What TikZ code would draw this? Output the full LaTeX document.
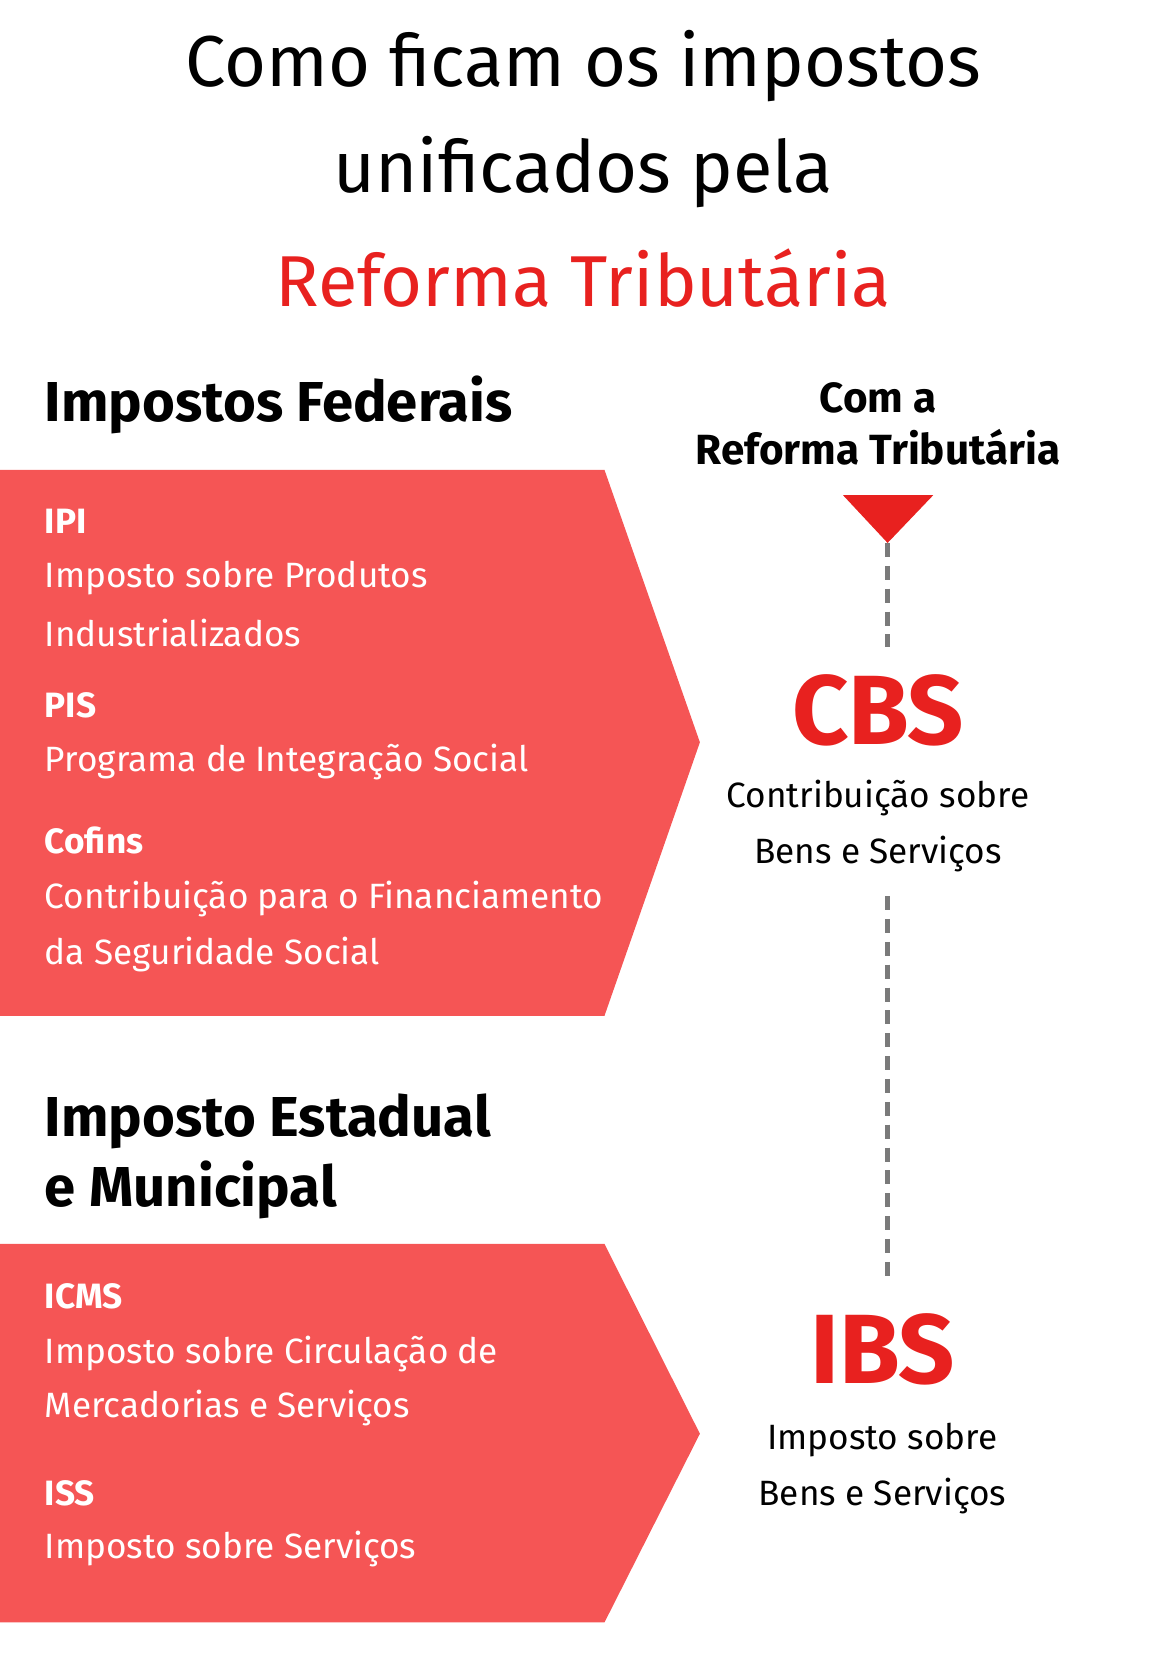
\documentclass[tikz,border=0pt]{standalone}
\usepackage{fontspec}
\setmainfont{Fira Sans}
\usetikzlibrary{positioning}
\definecolor{redbox}{HTML}{F55555}
\definecolor{redtext}{HTML}{E8211F}
\definecolor{dashgray}{HTML}{7A7A7A}
\tikzset{
  title/.style   ={font=\fontsize{41}{48}\selectfont, anchor=center},
  heading/.style ={font=\fontsize{32}{38}\selectfont\bfseries, anchor=west},
  tax/.style     ={font=\fontsize{20}{24}\selectfont\bfseries, text=white, anchor=west},
  desc/.style    ={font=\fontsize{20}{24}\selectfont, text=white, anchor=west},
  big/.style     ={font=\fontsize{56}{60}\selectfont\bfseries, text=redtext},
  sub/.style     ={font=\fontsize{20}{24}\selectfont, anchor=center},
  link/.style    ={dashgray, line width=2.6pt, dash pattern=on 8pt off 5pt}
}
\begin{document}
\begin{tikzpicture}[x=0.0212cm, y=-0.0212cm, inner sep=0pt]
    \useasboundingbox (0,0) rectangle (1100,1572);

    % title
    \node[title] (t1) at (550,62) {Como ficam os impostos};
    \node[title] (t2) at (550,162) {unificados pela};
    \node[title, text=redtext] (t3) at (550,262) {Reforma Tributária};

    % federal
    \node[heading] (fed) at (42,382) {Impostos Federais};
    \fill[redbox] (0,443) -- (570,443) -- (660,700) -- (570,958) -- (0,958) -- cycle;
    \node[tax]  (ipi)  at (42,492) {IPI};
    \node[desc] (ipi1) at (42,545) {Imposto sobre Produtos};
    \node[desc] (ipi2) at (42,597) {Industrializados};
    \node[tax]  (pis)  at (42,665) {PIS};
    \node[desc] (pis1) at (42,719) {Programa de Integração Social};
    \node[tax]  (cof)  at (42,793) {Cofins};
    \node[desc] (cof1) at (42,848) {Contribuição para o Financiamento};
    \node[desc] (cof2) at (42,900) {da Seguridade Social};

    % state and municipal
    \node[heading] (est1) at (42,1057) {Imposto Estadual};
    \node[heading] (est2) at (42,1122) {e Municipal};
    \fill[redbox] (0,1173) -- (570,1173) -- (660,1352) -- (570,1530) -- (0,1530) -- cycle;
    \node[tax]  (icms)  at (42,1222) {ICMS};
    \node[desc] (icms1) at (42,1277) {Imposto sobre Circulação de};
    \node[desc] (icms2) at (42,1328) {Mercadorias e Serviços};
    \node[tax]  (iss)   at (42,1408) {ISS};
    \node[desc] (iss1)  at (42,1461) {Imposto sobre Serviços};

    % right column
    \node[sub, font=\fontsize{24}{28}\selectfont\bfseries] (com1) at (828,375) {Com a};
    \node[sub, font=\fontsize{24}{28}\selectfont\bfseries] (com2) at (828,422) {Reforma Tributária};
    \fill[redtext] (795,467) -- (880,467) -- (837,512) -- cycle;
    \coordinate (tip) at (837,512);
    \coordinate (top1) at (837,610);

    \node[big] (cbs) at (828,670) {CBS};
    \node[sub] (cbs1) at (828,753) {Contribuição sobre};
    \node[sub] (cbs2) at (828,805) {Bens e Serviços};
    \coordinate (mid1) at (837,845);
    \coordinate (mid2) at (837,1210);

    \node[big] (ibs) at (832,1272) {IBS};
    \node[sub] (ibs1) at (832,1358) {Imposto sobre};
    \node[sub] (ibs2) at (832,1411) {Bens e Serviços};

    \draw[link] (tip) -- (top1);
    \draw[link] (mid1) -- (mid2);
  \end{tikzpicture}
\end{document}
